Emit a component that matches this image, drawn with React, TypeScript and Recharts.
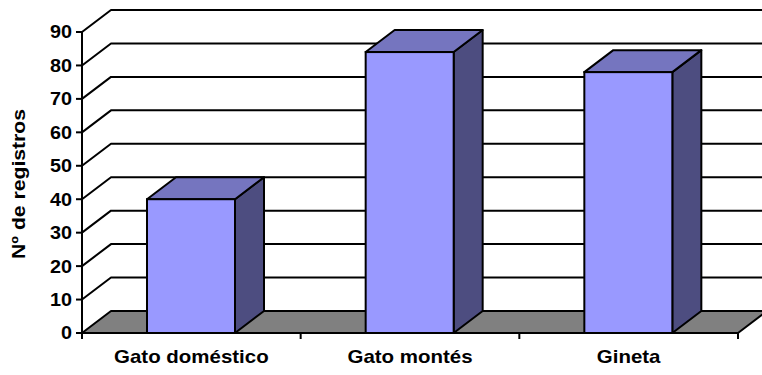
import React from 'react';
import { BarChart, Bar, XAxis, YAxis, CartesianGrid } from 'recharts';

const categories = ['Gato doméstico', 'Gato montés', 'Gineta'];
const registros = [40, 84, 78];
const yTicks = [0, 10, 20, 30, 40, 50, 60, 70, 80, 90];

const data = categories.map((name, i) => ({ name, value: registros[i] }));

const DX = 29;
const DY = 22;
const FRONT = '#9999FF';
const TOP = '#7575BF';
const SIDE = '#4D4D80';
const FLOOR = '#808080';
const LINE = '#000000';

const Bar3D = (props: any) => {
  const { x, y, width, height } = props;
  if (width == null || height == null) return null;
  const top = `${x},${y} ${x + DX},${y - DY} ${x + width + DX},${y - DY} ${x + width},${y}`;
  const side = `${x + width},${y} ${x + width + DX},${y - DY} ${x + width + DX},${y + height - DY} ${x + width},${y + height}`;
  return (
    <g>
      <polygon points={side} fill={SIDE} stroke={LINE} strokeWidth={2} strokeLinejoin="round" />
      <polygon points={top} fill={TOP} stroke={LINE} strokeWidth={2} strokeLinejoin="round" />
      <rect x={x} y={y} width={width} height={height} fill={FRONT} stroke={LINE} strokeWidth={2} />
    </g>
  );
};

const gridLine = (props: any) => {
  const { x1, y1, x2, index } = props;
  const bottom = props.y != null && props.height != null ? props.y + props.height : null;
  const isFloor = bottom != null ? Math.abs(y1 - bottom) < 1 : index === 0;
  if (isFloor) {
    const n = categories.length;
    const step = (x2 - x1) / n;
    const ticks = [];
    for (let i = 0; i <= n; i++) {
      const tx = x1 + i * step;
      ticks.push(<line key={i} x1={tx} y1={y1} x2={tx} y2={y1 + 6} stroke={LINE} strokeWidth={2} />);
    }
    return (
      <g key={`floor-${index}`}>
        <polygon
          points={`${x1},${y1} ${x2},${y1} ${x2 + DX},${y1 - DY} ${x1 + DX},${y1 - DY}`}
          fill={FLOOR}
          stroke={LINE}
          strokeWidth={2}
          strokeLinejoin="round"
        />
        {ticks}
      </g>
    );
  }
  return (
    <g key={`grid-${index}`}>
      <polyline
        points={`${x1},${y1} ${x1 + DX},${y1 - DY} ${x2 + DX},${y1 - DY}`}
        fill="none"
        stroke={LINE}
        strokeWidth={2}
        strokeLinejoin="round"
      />
    </g>
  );
};

const FONT = 'Arial, "Liberation Sans", sans-serif';

const YTick = (props: any) => {
  const { x, y, payload } = props;
  return (
    <g transform={`translate(${x},${y})`}>
      <text
        transform="scale(1.1,1)"
        textAnchor="end"
        dy="0.36em"
        fontFamily={FONT}
        fontWeight="bold"
        fontSize={18}
        fill="#000"
      >
        {payload.value}
      </text>
    </g>
  );
};

const XTick = (props: any) => {
  const { x, y, payload } = props;
  return (
    <g transform={`translate(${x},${y})`}>
      <text
        transform="scale(1.17,1)"
        textAnchor="middle"
        y={30}
        fontFamily={FONT}
        fontWeight="bold"
        fontSize={17.5}
        fill="#000"
      >
        {payload.value}
      </text>
    </g>
  );
};

const YLabel = () => (
  <g transform="translate(25,184) rotate(-90)">
    <text
      transform="scale(1.21,1)"
      textAnchor="middle"
      fontFamily={FONT}
      fontWeight="bold"
      fontSize={17.5}
      fill="#000"
    >
      Nº de registros
    </text>
  </g>
);

export default function App() {
  return (
    <div style={{ position: 'absolute', left: 0, top: 0, width: 762, height: 375, background: '#fff' }}>
      <BarChart
        width={762}
        height={375}
        data={data}
        margin={{ top: 32, right: 24, bottom: 12, left: 0 }}
      >
        <CartesianGrid vertical={false} horizontal={gridLine} />
        <XAxis
          dataKey="name"
          height={30}
          axisLine={false}
          tickLine={false}
          tickSize={0}
          tickMargin={0}
          interval={0}
          tick={<XTick />}
        />
        <YAxis
          width={82}
          domain={[0, 90]}
          ticks={yTicks}
          interval={0}
          axisLine={{ stroke: LINE, strokeWidth: 2 }}
          tickLine={{ stroke: LINE, strokeWidth: 2 }}
          tickSize={6}
          tickMargin={4}
          tick={<YTick />}
          label={<YLabel />}
        />
        <Bar dataKey="value" barSize={88} shape={<Bar3D />} isAnimationActive={false} />
      </BarChart>
    </div>
  );
}
